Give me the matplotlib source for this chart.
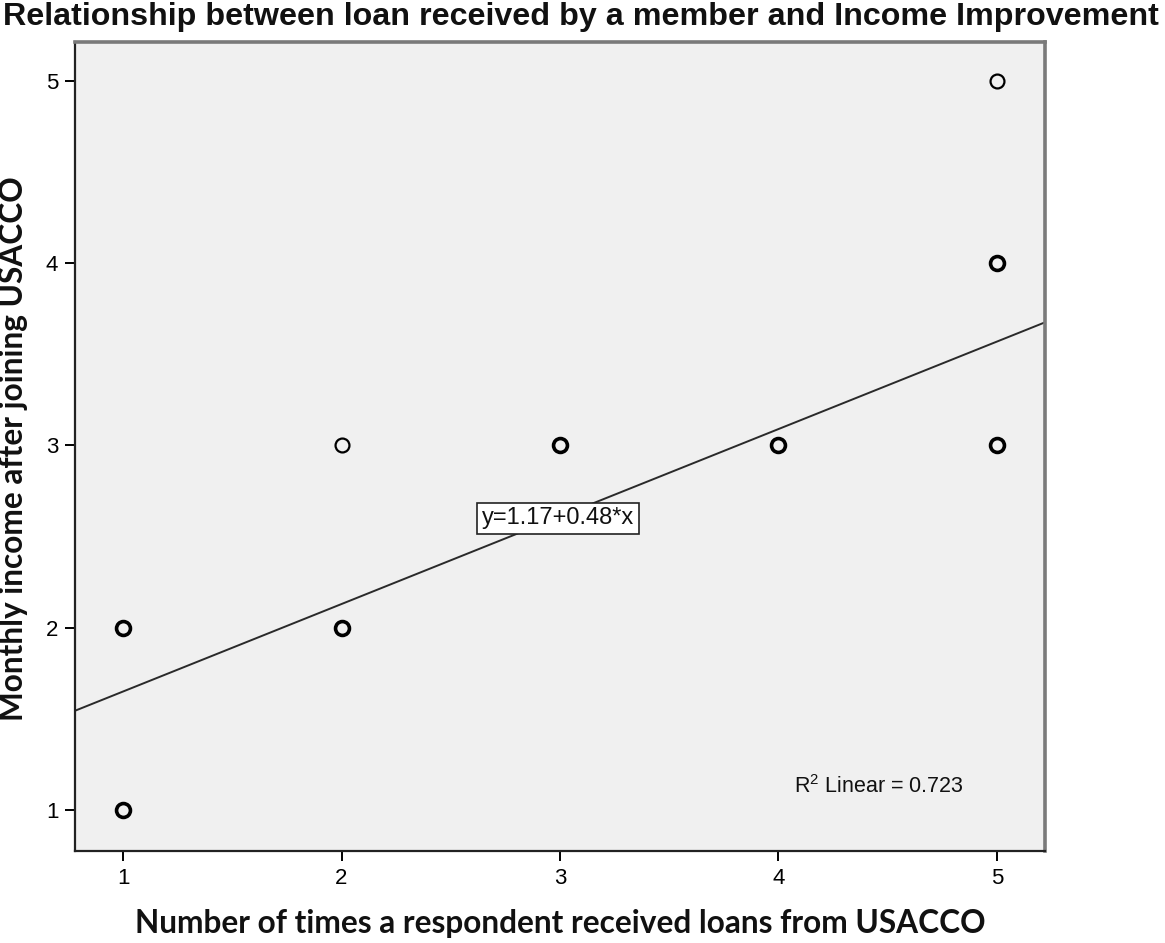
import matplotlib
matplotlib.use("Agg")
import matplotlib.pyplot as plt

# Observed (loans received, monthly income) pairs and how many respondents share each pair
loans = [1, 1, 2, 2, 3, 4, 5, 5, 5]
income = [1, 2, 2, 3, 3, 3, 3, 4, 5]
counts = [3, 3, 3, 1, 4, 3, 4, 4, 1]

# Fitted linear model
intercept = 1.17
slope = 0.48
r_squared = 0.723

x_ticks = [1, 2, 3, 4, 5]
y_ticks = [1, 2, 3, 4, 5]

plt.rcParams['font.family'] = ['Liberation Sans', 'DejaVu Sans']

fig = plt.figure(figsize=(11.65, 9.43), dpi=100)
ax = fig.add_axes([0.0644, 0.0976, 0.8326, 0.8579])
ax.set_facecolor('#f0f0f0')

xlim = (0.78, 5.22)
ylim = (0.775, 5.214)
ax.set_xlim(*xlim)
ax.set_ylim(*ylim)

# Scatter: overlapping respondents are drawn with a heavier outline
for x, y, n in zip(loans, income, counts):
    lw = 2.6 if n > 1 else 1.6
    ax.plot([x], [y], linestyle='none', marker='o', markersize=10,
            markerfacecolor='none', markeredgecolor='black',
            markeredgewidth=lw, zorder=3)

# Regression line across the full x range
ax.plot(list(xlim), [intercept + slope * xlim[0], intercept + slope * xlim[1]],
        color='#2a2a2a', linewidth=1.4, zorder=2)

ax.text(2.99, 2.60, f"y={intercept:.2f}+{slope:.2f}*x", ha='center', va='center',
        fontsize=17, color='#111111', zorder=4,
        bbox=dict(boxstyle='square,pad=0.2', facecolor='white',
                  edgecolor='#222222', linewidth=1.2))

ax.text(4.07, 1.126, r"$\mathregular{R^2}$ Linear = " + f"{r_squared:.3f}",
        ha='left', va='center', fontsize=15.5, color='#111111')

ax.set_xticks(x_ticks)
ax.set_yticks(y_ticks)
ax.tick_params(axis='both', direction='out', length=7, width=1.4,
               color='black', labelsize=16, pad=5)

for side in ('left', 'bottom'):
    ax.spines[side].set_color('#222222')
    ax.spines[side].set_linewidth(1.6)
for side in ('top', 'right'):
    ax.spines[side].set_color('#7a7a7a')
    ax.spines[side].set_linewidth(2.6)

fig.text(0.4985, 0.9825, "Relationship between loan received by a member and Income Improvement",
         ha='center', va='center', fontsize=23.2, fontweight='bold', color='#111111')

ax.set_xlabel("Number of times a respondent received loans from USACCO",
              fontsize=22.8, fontweight='bold', family=['Lato', 'DejaVu Sans'],
              color='#111111', va='center')
ax.set_ylabel("Monthly income after joining USACCO",
              fontsize=22.8, fontweight='bold', family=['Lato', 'DejaVu Sans'],
              color='#111111', va='center')
ax.xaxis.set_label_coords(0.5, -0.090)
ax.yaxis.set_label_coords(-0.063, 0.497)

fig.savefig("out.png", dpi=100)
